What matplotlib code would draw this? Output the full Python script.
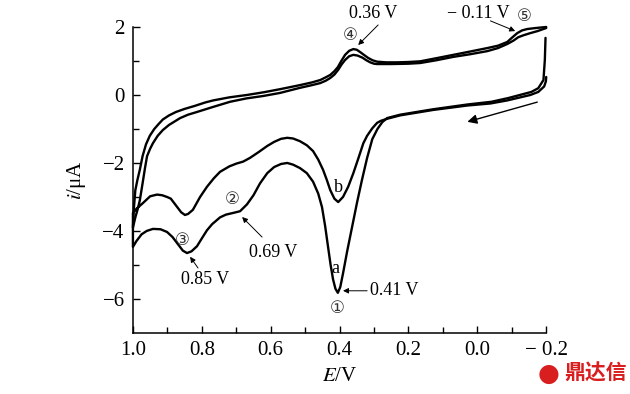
"""
Cyclic voltammogram, two scans (a, b) with labelled peaks
"""

import matplotlib
matplotlib.use("Agg")
import matplotlib.pyplot as plt
import numpy as np

# ---- data (E in V, i in uA) ----
E_a_low = [-0.198, -0.196, -0.192, -0.177, -0.157, -0.09, -0.041, 0.029, 0.128, 0.224,
           0.262, 0.276, 0.290, 0.305, 0.320, 0.335, 0.349, 0.363, 0.378, 0.390,
           0.398, 0.405, 0.412, 0.419, 0.426, 0.433, 0.442, 0.451, 0.462, 0.477,
           0.495, 0.515, 0.535, 0.552, 0.570, 0.590, 0.610, 0.631, 0.650, 0.669,
           0.689, 0.709, 0.730, 0.747, 0.770, 0.785, 0.800, 0.814, 0.830, 0.843,
           0.855, 0.870, 0.885, 0.901, 0.920, 0.942, 0.960, 0.975, 0.990, 1.0]
i_a_low = [1.68, 1.03, 0.44, 0.2, 0.09, -0.09, -0.2, -0.28, -0.42, -0.58,
           -0.68, -0.8, -1.0, -1.3, -1.85, -2.5, -3.15, -3.85, -4.6, -5.25,
           -5.65, -5.82, -5.7, -5.42, -5.0, -4.5, -3.85, -3.3, -2.9, -2.55,
           -2.3, -2.15, -2.05, -2.0, -2.03, -2.12, -2.3, -2.6, -2.95, -3.22,
           -3.42, -3.47, -3.52, -3.6, -3.8, -3.98, -4.22, -4.45, -4.6, -4.65,
           -4.58, -4.38, -4.18, -4.03, -3.95, -3.94, -4.0, -4.1, -4.3, -4.47]
E_a_up = [1.0, 0.997, 0.993, 0.987, 0.980, 0.972, 0.962, 0.951, 0.938, 0.925,
          0.913, 0.895, 0.875, 0.850, 0.820, 0.790, 0.767, 0.720, 0.669, 0.620,
          0.573, 0.515, 0.480, 0.456, 0.440, 0.427, 0.415, 0.405, 0.395, 0.384,
          0.372, 0.360, 0.350, 0.340, 0.328, 0.317, 0.304, 0.291, 0.265, 0.233,
          0.200, 0.166, 0.120, 0.070, 0.020, -0.029, -0.060, -0.087, -0.100, -0.116,
          -0.130, -0.145, -0.170, -0.2]
i_a_up = [-3.9, -3.3, -2.8, -2.5, -2.2, -1.8, -1.45, -1.2, -1.0, -0.85,
          -0.72, -0.6, -0.5, -0.41, -0.32, -0.22, -0.16, -0.07, 0.0, 0.08,
          0.17, 0.29, 0.37, 0.44, 0.52, 0.59, 0.70, 0.82, 1.0, 1.18,
          1.30, 1.35, 1.33, 1.26, 1.17, 1.09, 1.02, 0.98, 0.96, 0.96,
          0.97, 0.99, 1.08, 1.18, 1.28, 1.38, 1.45, 1.56, 1.68, 1.82,
          1.90, 1.94, 1.97, 2.0]

E_b_low = [-0.2, -0.199, -0.194, -0.177, -0.154, -0.087, -0.038, 0.029, 0.128, 0.224,
           0.262, 0.280, 0.291, 0.305, 0.320, 0.331, 0.345, 0.360, 0.375, 0.390,
           0.404, 0.415, 0.427, 0.437, 0.448, 0.462, 0.477, 0.495, 0.515, 0.535,
           0.552, 0.570, 0.590, 0.610, 0.635, 0.660, 0.680, 0.700, 0.720, 0.747,
           0.765, 0.785, 0.805, 0.826, 0.840, 0.849, 0.860, 0.875, 0.890, 0.901,
           0.915, 0.930, 0.950, 0.971, 0.990, 1.0]
i_b_low = [0.53, 0.4, 0.25, 0.09, 0.0, -0.16, -0.25, -0.31, -0.44, -0.6,
           -0.7, -0.76, -0.82, -0.98, -1.2, -1.42, -1.85, -2.3, -2.7, -3.0,
           -3.15, -3.05, -2.8, -2.5, -2.2, -1.9, -1.65, -1.48, -1.36, -1.28,
           -1.26, -1.29, -1.38, -1.5, -1.68, -1.85, -1.96, -2.02, -2.1, -2.26,
           -2.45, -2.7, -3.0, -3.38, -3.5, -3.53, -3.45, -3.25, -3.05, -3.0,
           -2.95, -2.93, -2.98, -3.18, -3.35, -3.47]
E_b_up = [1.0, 0.993, 0.986, 0.980, 0.972, 0.965, 0.959, 0.950, 0.942, 0.928,
          0.913, 0.895, 0.863, 0.840, 0.814, 0.770, 0.718, 0.670, 0.622, 0.573,
          0.515, 0.480, 0.456, 0.440, 0.427, 0.415, 0.404, 0.394, 0.384, 0.372,
          0.360, 0.348, 0.334, 0.322, 0.311, 0.300, 0.291, 0.250, 0.200, 0.166,
          0.120, 0.070, 0.020, -0.029, -0.060, -0.087, -0.105, -0.119, -0.135, -0.154,
          -0.175, -0.2]
i_b_up = [-3.9, -3.6, -3.35, -3.1, -2.6, -2.15, -1.8, -1.58, -1.42, -1.2,
          -1.03, -0.88, -0.68, -0.58, -0.5, -0.36, -0.2, -0.1, -0.03, 0.06,
          0.21, 0.29, 0.35, 0.42, 0.5, 0.6, 0.74, 0.9, 1.03, 1.14,
          1.18, 1.16, 1.1, 1.02, 0.96, 0.92, 0.91, 0.91, 0.92, 0.94,
          1.02, 1.12, 1.2, 1.29, 1.38, 1.5, 1.6, 1.7, 1.76, 1.82,
          1.88, 1.97]

x_ticks = [1.0, 0.8, 0.6, 0.4, 0.2, 0.0, -0.2]
x_tick_labels = ["1.0", "0.8", "0.6", "0.4", "0.2", "0.0", "\u2212 0.2"]
y_ticks = [2, 0, -2, -4, -6]
y_tick_labels = ["2", "0", "\u22122", "\u22124", "\u22126"]

SERIF = ["Liberation Serif", "DejaVu Sans"]
plt.rcParams["font.family"] = SERIF
plt.rcParams["mathtext.fontset"] = "stix"

fig = plt.figure(figsize=(6.3, 3.94), dpi=100)
ax = fig.add_axes([0.211, 0.155, 0.656, 0.7765])

lw = 1.7
for E_low, i_low, E_up, i_up in [(E_a_low, i_a_low, E_a_up, i_a_up),
                                 (E_b_low, i_b_low, E_b_up, i_b_up)]:
    E = np.concatenate([E_low, E_up])
    cur = np.concatenate([i_low, i_up])
    ax.plot(E, cur, color="black", lw=lw, solid_joinstyle="round",
            solid_capstyle="round", clip_on=False)

ax.set_xlim(1.0, -0.2)
ax.set_ylim(-7, 2)
ax.set_xticks(x_ticks)
ax.set_xticklabels(x_tick_labels)
ax.set_yticks(y_ticks)
ax.set_yticklabels(y_tick_labels)
ax.set_xticks(np.arange(-0.2, 1.01, 0.1), minor=True)
ax.set_yticks([1, -1, -3, -5], minor=True)
ax.tick_params(which="both", direction="in", width=1.0, labelsize=15, pad=6)
ax.tick_params(which="major", length=5)
ax.tick_params(which="minor", length=4)
for s in ["top", "right"]:
    ax.spines[s].set_visible(False)
for s in ["left", "bottom"]:
    ax.spines[s].set_linewidth(1.1)

ax.set_xlabel(r"$E$/V", fontsize=15, labelpad=5)
ax.set_ylabel(r"$i$/μA", fontsize=15, labelpad=10)

# ---- annotations ----
fs = 13
arr = dict(arrowstyle="-|>", color="black", lw=0.7, mutation_scale=8,
           shrinkA=0, shrinkB=0)
circ = dict(fontsize=12, ha="center", va="center", family=["DejaVu Sans"], color="#333333")

ax.text(0.369, 1.76, "\u2463", **circ)
ax.text(0.302, 2.41, "0.36 V", fontsize=fs, ha="center", va="center")
ax.annotate("", xy=(0.346, 1.47), xytext=(0.288, 2.06), arrowprops=arr)

ax.text(-0.003, 2.41, "\u2212 0.11 V", fontsize=fs, ha="center", va="center")
ax.text(-0.137, 2.32, "\u2464", **circ)
ax.annotate("", xy=(-0.110, 1.88), xytext=(-0.038, 2.18), arrowprops=arr)

ax.annotate("", xy=(0.029, -0.79), xytext=(-0.174, -0.21),
            arrowprops=dict(arrowstyle="-|>", color="black", lw=1.0,
                            mutation_scale=14, shrinkA=0, shrinkB=0))

ax.text(0.404, -2.71, "b", fontsize=fs, ha="center", va="center")
ax.text(0.413, -5.09, "a", fontsize=fs, ha="center", va="center")

ax.text(0.311, -5.76, "0.41 V", fontsize=fs, ha="left", va="center")
ax.annotate("", xy=(0.390, -5.76), xytext=(0.320, -5.76), arrowprops=arr)
ax.text(0.407, -6.26, "\u2460", **circ)

ax.text(0.712, -3.06, "\u2461", **circ)
ax.text(0.593, -4.62, "0.69 V", fontsize=fs, ha="center", va="center")
ax.annotate("", xy=(0.683, -3.59), xytext=(0.625, -4.18), arrowprops=arr)

ax.text(0.858, -4.26, "\u2462", **circ)
ax.text(0.791, -5.44, "0.85 V", fontsize=fs, ha="center", va="center")
ax.annotate("", xy=(0.834, -4.76), xytext=(0.811, -5.09), arrowprops=arr)

# watermark
fig.text(0.870, 0.052, "\u25cf", color="#d81e1e", fontsize=18, ha="center", va="center",
         family=["DejaVu Sans"])
fig.text(0.946, 0.052, "鼎达信", color="#d81e1e", fontsize=15, fontweight="bold",
         ha="center", va="center", family=["Noto Sans CJK SC", "DejaVu Sans"])

fig.savefig("out.png", dpi=100)
